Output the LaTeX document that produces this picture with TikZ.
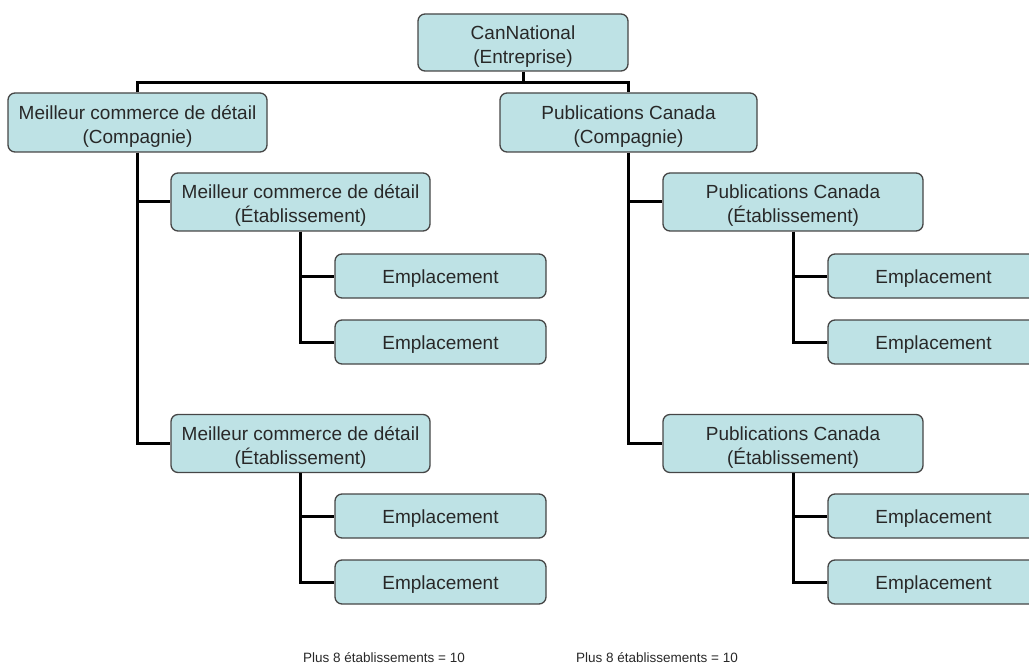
\documentclass[tikz,border=0pt]{standalone}
\usepackage{fontspec}
\setmainfont{Liberation Sans}
\definecolor{boxfill}{RGB}{190,226,229}
\definecolor{boxline}{RGB}{70,70,70}
\definecolor{txt}{RGB}{40,40,40}
\newcommand{\twol}[2]{\raisebox{-4pt}[\height][\depth]{\begin{tabular}{@{}c@{}}#1\\#2\end{tabular}}}
\newcommand{\onel}[1]{\raisebox{-3pt}[\height][\depth]{#1}}
\begin{document}
\begin{tikzpicture}[x=1pt,y=-1pt,
  box/.style={draw=boxline, line width=1.3pt, fill=boxfill, rounded corners=7pt,
    text=txt, font=\fontsize{19}{24}\selectfont, inner sep=0pt},
  bigbox/.style={box, minimum width=259, minimum height=58},
  leaf/.style={box, minimum width=211, minimum height=44},
  conn/.style={line width=3pt, black},
  note/.style={text=txt, font=\fontsize{13.5}{16}\selectfont}]
\useasboundingbox (0,0) rectangle (1029,666);
\clip (0,0) rectangle (1029,666);
\coordinate (bus) at (0,83);
% nodes
\node[box, minimum width=210, minimum height=57] (ce) at (523,42.5) {\twol{CanNational}{(Entreprise)}};
\node[bigbox, minimum height=59] (c1) at (137.5,122.5) {\twol{Meilleur commerce de détail}{(Compagnie)}};
\node[bigbox, minimum width=257, minimum height=59] (c2) at (628.5,122.5) {\twol{Publications Canada}{(Compagnie)}};
\node[bigbox] (e1) at (300.5,202) {\twol{Meilleur commerce de détail}{(Établissement)}};
\node[bigbox] (e2) at (300.5,443.5) {\twol{Meilleur commerce de détail}{(Établissement)}};
\node[bigbox, minimum width=260] (p1) at (793,202) {\twol{Publications Canada}{(Établissement)}};
\node[bigbox, minimum width=260] (p2) at (793,443.5) {\twol{Publications Canada}{(Établissement)}};
\node[leaf] (l1) at (440.5,276) {\onel{Emplacement}};
\node[leaf] (l2) at (440.5,342) {\onel{Emplacement}};
\node[leaf] (l3) at (440.5,516) {\onel{Emplacement}};
\node[leaf] (l4) at (440.5,582) {\onel{Emplacement}};
\node[leaf] (r1) at (933.5,276) {\onel{Emplacement}};
\node[leaf] (r2) at (933.5,342) {\onel{Emplacement}};
\node[leaf] (r3) at (933.5,516) {\onel{Emplacement}};
\node[leaf] (r4) at (933.5,582) {\onel{Emplacement}};
\node[note] (n1) at (384,658) {Plus 8 établissements = 10};
\node[note] (n2) at (657,658) {Plus 8 établissements = 10};
% connectors
\draw[conn] (ce.south) -- (ce.south |- bus);
\draw[conn] (c1.north) -- (c1.north |- bus) -- (c2.north |- bus) -- (c2.north);
\draw[conn] (c1.south) |- (e1.west);
\draw[conn] (c1.south) |- (e2.west);
\draw[conn] (c2.south) |- (p1.west);
\draw[conn] (c2.south) |- (p2.west);
\draw[conn] (e1.south) |- (l1.west);
\draw[conn] (e1.south) |- (l2.west);
\draw[conn] (e2.south) |- (l3.west);
\draw[conn] (e2.south) |- (l4.west);
\draw[conn] (p1.south) |- (r1.west);
\draw[conn] (p1.south) |- (r2.west);
\draw[conn] (p2.south) |- (r3.west);
\draw[conn] (p2.south) |- (r4.west);
\end{tikzpicture}
\end{document}
